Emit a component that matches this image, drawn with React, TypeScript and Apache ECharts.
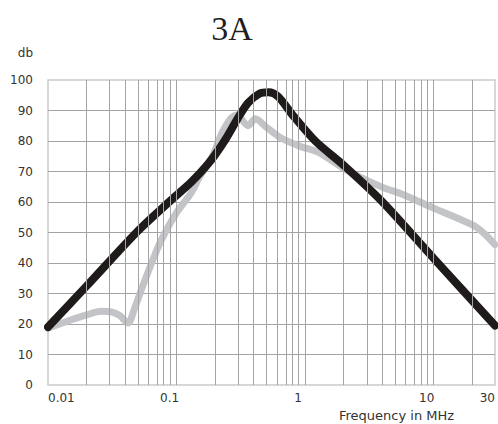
import React, { useEffect, useRef } from "react";
import * as echarts from "echarts";

const TITLE = "3A";
const Y_NAME = "db";
const X_NAME = "Frequency in MHz";

const X_MIN = 0.01;
const X_MAX = 30;
const Y_MIN = 0;
const Y_MAX = 100;
const Y_STEP = 10;

// Black curve (frequency MHz, attenuation dB)
const blackFreq = [0.01, 0.02, 0.05, 0.09, 0.13, 0.18, 0.24, 0.3, 0.36, 0.44, 0.52, 0.62, 0.8, 1.2, 2, 4, 10, 30];
const blackDb = [19, 32.5, 50.5, 60.5, 66.5, 73, 80.5, 87.5, 92.5, 95.5, 96, 94.5, 88.5, 80, 72, 60, 41.5, 19.5];

// Gray curve
const grayFreq = [0.01, 0.015, 0.02, 0.026, 0.031, 0.036, 0.042, 0.047, 0.054, 0.064, 0.076, 0.1, 0.13, 0.15, 0.19, 0.225, 0.265, 0.295, 0.36, 0.41, 0.5, 0.66, 0.95, 1.25, 2.2, 4, 5.5, 10, 20, 25, 30];
const grayDb = [18.6, 21.3, 23, 24.2, 24, 22.8, 20.3, 25, 32, 40, 47.5, 56.5, 63, 68, 75, 82.5, 87.5, 88.5, 85, 87.3, 84.5, 80.8, 78, 76.4, 70, 64.8, 62.8, 58, 52.5, 49.5, 46];

const GRID_COLOR = "#a3a3a3";
const LABEL_COLOR = "#333333";

function gridFreqs(): number[] {
  const out: number[] = [];
  for (const d of [0.01, 0.1, 1, 10]) {
    for (let k = 1; k <= 9; k++) {
      const v = k * d;
      if (v > X_MIN * 1.0001 && v < X_MAX * 0.9999) out.push(v);
    }
  }
  return out;
}

function fmtFreq(v: number): string {
  const f = Math.pow(10, v);
  return String(Number(f.toPrecision(2)));
}

export default function App() {
  const ref = useRef<HTMLDivElement>(null);
  useEffect(() => {
    if (!ref.current) return;
    const chart = echarts.init(ref.current, undefined, { renderer: "svg" });
    const xMin = Math.log10(X_MIN);
    const xMax = Math.log10(X_MAX);
    chart.setOption({
      animation: false,
      title: {
        text: TITLE,
        left: 227,
        textAlign: "center",
        top: 6,
        textStyle: {
          fontFamily: "Liberation Serif",
          fontSize: 34,
          fontWeight: "normal",
          color: "#231f20",
        },
      },
      grid: {
        left: 48,
        right: 3,
        top: 80,
        bottom: 39,
        show: true,
        borderColor: "#cacaca",
        borderWidth: 1.5,
      },
      xAxis: {
        type: "value",
        min: xMin,
        max: xMax,
        interval: 1,
        splitLine: { show: false },
        axisLine: { show: false },
        axisTick: { show: false },
        axisLabel: {
          margin: 7,
          alignMinLabel: "left",
          alignMaxLabel: "right",
          fontFamily: "DejaVu Sans",
          fontSize: 12,
          color: LABEL_COLOR,
          formatter: (v: number) => {
            const t = fmtFreq(v);
            if (Math.abs(v - xMin) < 1e-6 || Math.abs(v - xMax) < 1e-6) return t;
            return "{m|" + t + "}";
          },
          rich: {
            m: {
              fontFamily: "DejaVu Sans",
              fontSize: 12,
              color: LABEL_COLOR,
              padding: [0, 14, 0, 0],
            },
          },
        },
      },
      yAxis: {
        type: "value",
        min: Y_MIN,
        max: Y_MAX,
        interval: Y_STEP,
        axisLine: { show: false },
        axisTick: { show: false },
        splitLine: {
          show: true,
          showMinLine: false,
          showMaxLine: false,
          lineStyle: { color: GRID_COLOR, width: 1 },
        },
        axisLabel: {
          margin: 15,
          fontFamily: "DejaVu Sans",
          fontSize: 12,
          color: LABEL_COLOR,
          padding: [0, 0, 3, 0],
        },
      },
      graphic: [
        {
          type: "text",
          x: 33,
          y: 53,
          style: {
            text: Y_NAME,
            align: "right",
            verticalAlign: "middle",
            fontFamily: "DejaVu Sans",
            fontSize: 12,
            fill: LABEL_COLOR,
          },
        },
        {
          type: "text",
          x: 339,
          y: 415,
          style: {
            text: X_NAME,
            align: "left",
            verticalAlign: "middle",
            fontFamily: "DejaVu Sans",
            fontSize: 13,
            fill: LABEL_COLOR,
          },
        },
      ],
      series: [
        {
          type: "line",
          data: [],
          silent: true,
          z: 1,
          markLine: {
            silent: true,
            symbol: ["none", "none"],
            label: { show: false },
            lineStyle: { color: GRID_COLOR, width: 1, type: "solid" },
            data: gridFreqs().map((f) => ({ xAxis: Math.log10(f) })),
          },
        },
        {
          type: "line",
          z: 3,
          smooth: 0.3,
          showSymbol: false,
          data: grayFreq.map((f, i) => [Math.log10(f), grayDb[i]]),
          lineStyle: { color: "#c3c4c7", width: 7, cap: "round", join: "round" },
        },
        {
          type: "line",
          z: 4,
          smooth: 0.3,
          showSymbol: false,
          data: blackFreq.map((f, i) => [Math.log10(f), blackDb[i]]),
          lineStyle: { color: "#1f1b1b", width: 8, cap: "round", join: "round" },
        },
      ],
    });
    return () => chart.dispose();
  }, []);
  return <div ref={ref} style={{ width: 498, height: 424, position: "absolute", left: 0, top: 0 }} />;
}
